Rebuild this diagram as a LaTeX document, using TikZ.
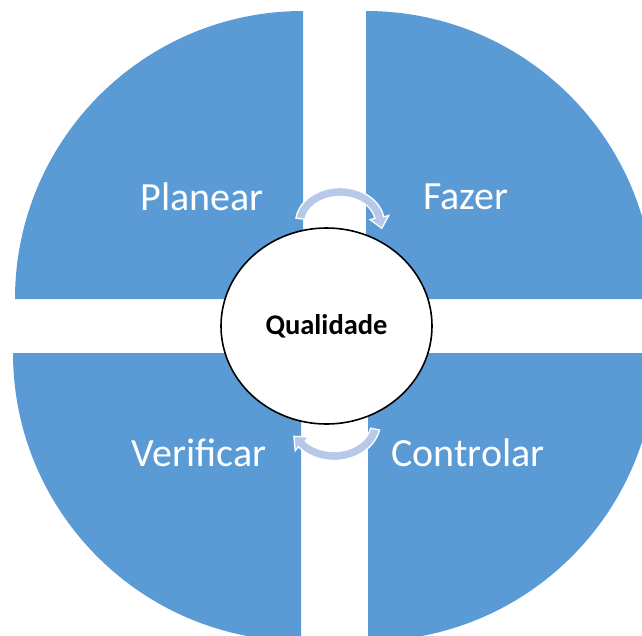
\documentclass[tikz,border=0pt]{standalone}
\usepackage{fontspec}
\setmainfont{Carlito}
\usetikzlibrary{shapes.geometric}
\definecolor{quadblue}{RGB}{91,155,213}
\definecolor{arrowblue}{RGB}{183,201,232}
\tikzset{
  quad/.style={fill=quadblue, draw=none},
  quadlabel/.style={text=white, font=\fontsize{40}{44}\selectfont, inner sep=0pt},
  cyclearrow/.style={fill=arrowblue, draw=white, line width=1.3pt, line join=miter},
  core/.style={ellipse, draw=black, line width=1.6pt, fill=white,
    minimum width=211pt, minimum height=196pt, inner sep=0pt,
    font=\fontsize{28.5}{31}\selectfont\bfseries}
}
\begin{document}
\begin{tikzpicture}[x=1pt, y=-1pt]
  \useasboundingbox (0,0) rectangle (642,635);
  \clip (0,0) rectangle (642,635);

  % four quarter discs
  \fill[quad] (303,299) -- (15,299) arc[start angle=180, end angle=270, radius=288] -- cycle;
  \fill[quad] (366,299) -- (366,11) arc[start angle=270, end angle=360, radius=288] -- cycle;
  \fill[quad] (301,353) -- (13,353) arc[start angle=180, end angle=90, radius=288] -- cycle;
  \fill[quad] (368,353) -- (656,353) arc[start angle=0, end angle=90, radius=288] -- cycle;

  % quadrant labels
  \node[quadlabel] (plan) at (202,197) {Planear};
  \node[quadlabel] (do)   at (466,197) {Fazer};
  \node[quadlabel] (chk)  at (199,453) {Verificar};
  \node[quadlabel] (ctl)  at (468,453) {Controlar};

  % curved arrow over the top, Planear -> Fazer
  \filldraw[cyclearrow]
    (295.9,218.1) arc[start angle=188, end angle=350, x radius=44.5, y radius=35.5]
    -- (388.7,215.5) -- (381.8,228.3) -- (370.1,219.7)
    -- (375.0,218.4) arc[start angle=350, end angle=188, x radius=35.5, y radius=26.5]
    -- cycle;

  % curved arrow under the bottom, Controlar -> Verificar
  \filldraw[cyclearrow]
    (379.5,430.0) arc[start angle=12, end angle=140, x radius=46.5, y radius=38.5]
    -- (295.2,450.7) -- (293.9,436.3) -- (308.4,437.1)
    -- (305.3,441.0) arc[start angle=140, end angle=12, x radius=37.5, y radius=29.5]
    -- cycle;

  % central ellipse
  \node[core] (q) at (326.5,326) {Qualidade};
\end{tikzpicture}
\end{document}
